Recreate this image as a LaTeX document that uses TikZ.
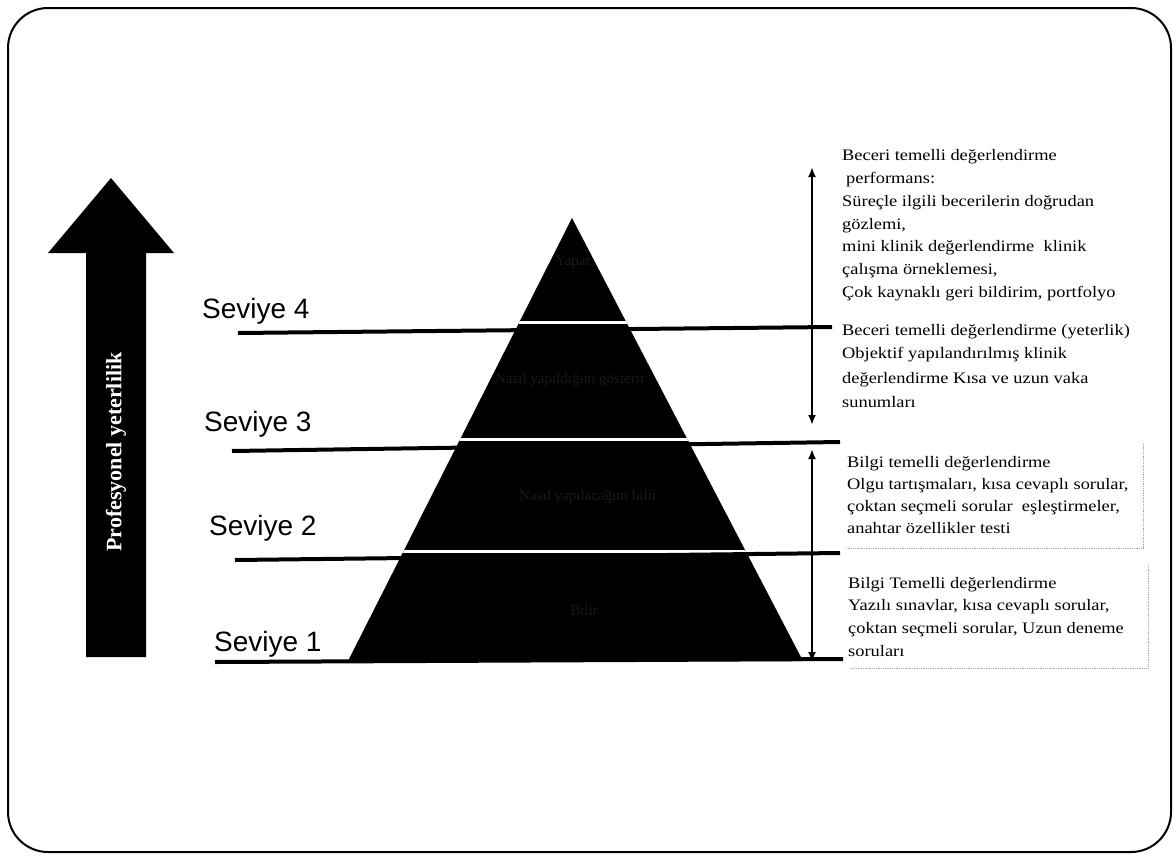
\documentclass[tikz,border=0pt]{standalone}
\usepackage{fontspec}
\setmainfont{Liberation Serif}
\newfontfamily\arialf{Liberation Sans}
\newfontfamily\descf{Liberation Serif}[FakeStretch=1.15]
\usetikzlibrary{arrows.meta}
\begin{document}
\begin{tikzpicture}[x=1pt,y=-1pt,
  lvl/.style={line width=4pt},
  sepline/.style={white, line width=3pt},
  lvllabel/.style={anchor=base west, inner sep=0pt, font=\arialf\fontsize{28}{32}\selectfont},
  dline/.style={anchor=base west, inner sep=0pt, font=\descf\fontsize{16}{20}\selectfont},
  dimarrow/.style={line width=2.5pt, {Latex[length=10pt,width=8pt]}-{Latex[length=10pt,width=8pt]}},
  ghost/.style={text=black!90, font=\fontsize{15}{18}\selectfont},
  faint/.style={black!35, densely dotted, line width=0.8pt}
]
\useasboundingbox (0,0) rectangle (1176,865);
% frame
\draw[line width=2pt, rounded corners=40pt] (8,8) rectangle (1171,852);

% big arrow
\fill[black] (86,657) -- (86,253) -- (48,253) -- (111,178) -- (174,253) -- (146,253) -- (146,657) -- cycle;
\node[rotate=90, text=white, font=\bfseries\fontsize{22}{24}\selectfont] (prof) at (116,452) {Profesyonel yeterlilik};

% pyramid
\coordinate (apex) at (572,218);
\coordinate (bl) at (348,661);
\coordinate (br) at (803,661);
\fill[black] (apex) -- (br) -- (bl) -- cycle;
\begin{scope}
  \clip (apex) -- (br) -- (bl) -- cycle;
  \draw[sepline] (300,322.5) -- (850,322.5);
  \draw[sepline] (300,439) -- (850,439);
  \draw[sepline] (300,551) -- (850,551);
\end{scope}
% faint labels inside pyramid
\node[ghost] (p4) at (573,262) {Yapar};
\node[ghost] (p3) at (570,380) {Nasıl yapıldığını gösterir};
\node[ghost] (p2) at (588,497) {Nasıl yapılacağını bilir};
\node[ghost] (p1) at (584,610) {Bilir};

% level lines
\coordinate (l4a) at (238,333); \coordinate (l4b) at (832,327);
\coordinate (l3a) at (232,451); \coordinate (l3b) at (840,442);
\coordinate (l2a) at (235,560); \coordinate (l2b) at (840,553);
\coordinate (l1a) at (215,662); \coordinate (l1b) at (843,659);
\draw[lvl] (l4a) -- (l4b);
\draw[lvl] (l3a) -- (l3b);
\draw[lvl] (l2a) -- (l2b);
\draw[lvl] (l1a) -- (l1b);

% level labels
\node[lvllabel] (s4) at (202,318) {Seviye 4};
\node[lvllabel] (s3) at (204,431) {Seviye 3};
\node[lvllabel] (s2) at (209,535) {Seviye 2};
\node[lvllabel] (s1) at (214,651) {Seviye 1};

% vertical dimension arrows
\coordinate (ua) at (812,167); \coordinate (ub) at (812,425);
\coordinate (la) at (812,449); \coordinate (lb) at (812,662);
\draw[dimarrow] (ua) -- (ub);
\draw[dimarrow] (la) -- (lb);

% faint dotted boxes
\draw[faint] (1143,443) -- (1143,548) -- (845,548);
\draw[faint] (1148,565) -- (1148,668) -- (850,668);

% descriptions
\node[dline] (a1) at (842,160) {Beceri temelli değerlendirme};
\node[dline] (a2) at (842,183) {\hspace{4pt}performans:};
\node[dline] (a3) at (842,206) {Süreçle ilgili becerilerin doğrudan};
\node[dline] (a4) at (842,229) {gözlemi,};
\node[dline] (a5) at (842,251) {mini klinik değerlendirme\ \ klinik};
\node[dline] (a6) at (842,274) {çalışma örneklemesi,};
\node[dline] (a7) at (842,297) {Çok kaynaklı geri bildirim, portfolyo};

\node[dline] (b1) at (842,335) {Beceri temelli değerlendirme (yeterlik)};
\node[dline] (b2) at (842,358) {Objektif yapılandırılmış klinik};
\node[dline] (b3) at (842,383) {değerlendirme Kısa ve uzun vaka};
\node[dline] (b4) at (842,407) {sunumları};

\node[dline] (c1) at (847,467) {Bilgi temelli değerlendirme};
\node[dline] (c2) at (847,489) {Olgu tartışmaları, kısa cevaplı sorular,};
\node[dline] (c3) at (847,511) {çoktan seçmeli sorular\ \ eşleştirmeler,};
\node[dline] (c4) at (847,533) {anahtar özellikler testi};

\node[dline] (d1) at (848,588) {Bilgi Temelli değerlendirme};
\node[dline] (d2) at (848,610) {Yazılı sınavlar, kısa cevaplı sorular,};
\node[dline] (d3) at (848,633) {çoktan seçmeli sorular, Uzun deneme};
\node[dline] (d4) at (848,656) {soruları};
\end{tikzpicture}
\end{document}
